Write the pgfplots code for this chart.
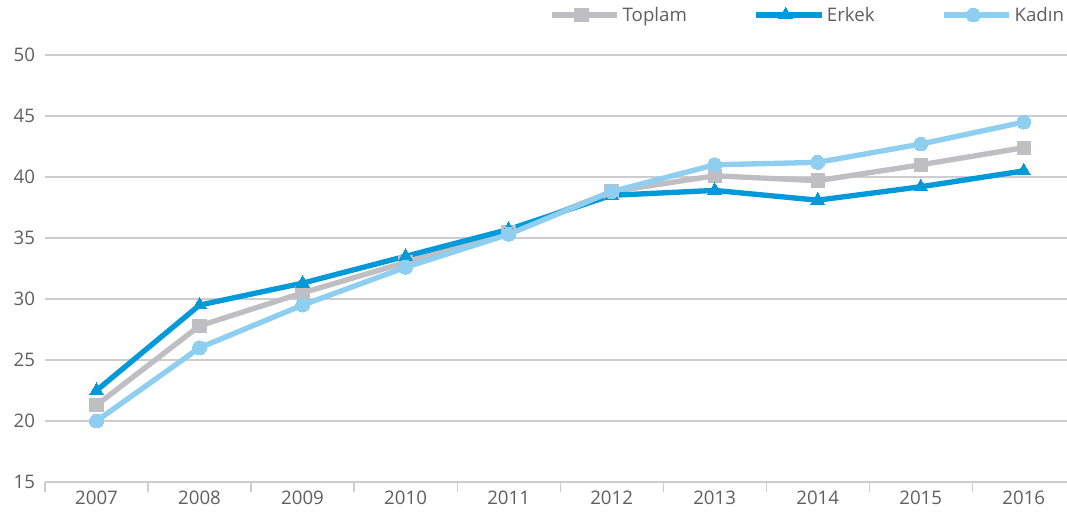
\documentclass[border=0pt]{standalone}
\usepackage{fontspec}
\setmainfont{Open Sans}
\usepackage{pgfplots}
\pgfplotsset{compat=1.18}

\definecolor{toplam}{RGB}{190,190,195}
\definecolor{erkek}{RGB}{0,154,218}
\definecolor{kadin}{RGB}{142,206,240}
\definecolor{txt}{RGB}{95,95,95}
\definecolor{gridc}{RGB}{205,205,208}

\begin{document}
\begin{tikzpicture}
\begin{axis}[name=ax, scale only axis, width=766.5pt, height=320.25pt,
  xmin=-0.5, xmax=9.42, ymin=15, ymax=50,
  xtick={0,...,9},
  xticklabels={2007,2008,2009,2010,2011,2012,2013,2014,2015,2016},
  minor xtick={-0.5,0.5,...,8.5},
  ytick={15,20,...,50},
  /pgf/number format/assume math mode=true,
  font=\fontsize{14}{16}\selectfont,
  tick label style={text=txt},
  yticklabel style={xshift=-4pt},
  xticklabel style={yshift=-3pt},
  major tick length=0pt,
  minor tick length=7.5pt,
  tick align=outside,
  minor tick style={gridc, line width=0.9pt},
  axis lines*=left,
  y axis line style={draw=none},
  x axis line style={gridc, line width=1pt},
  ymajorgrids, major grid style={gridc, line width=0.9pt},
  clip=false,
  legend columns=3,
  legend style={draw=none, fill=none, at={(1,1)}, anchor=east, yshift=30pt, xshift=3pt,
    font=\fontsize{14}{16}\selectfont\color{txt},
    /tikz/every even column/.append style={column sep=48pt}},
  legend image code/.code={\draw[mark repeat=2,mark phase=2] plot coordinates {(0pt,0pt) (22pt,0pt) (44pt,0pt)};
    \path (0pt,0pt) -- (49pt,0pt);},
  every axis plot/.append style={line width=4pt, line join=round}
]
\addplot[toplam, mark=square*, mark size=5pt, mark options={line width=0pt}] coordinates {
(0,21.3)(1,27.8)(2,30.5)(3,33.0)(4,35.5)(5,38.8)(6,40.1)(7,39.7)(8,41.0)(9,42.4)};
\addlegendentry{Toplam}
\addplot[erkek, mark=triangle*, mark size=5.8pt, mark options={line width=0pt}] coordinates {
(0,22.5)(1,29.5)(2,31.3)(3,33.5)(4,35.7)(5,38.5)(6,38.9)(7,38.1)(8,39.2)(9,40.5)};
\addlegendentry{Erkek}
\addplot[kadin, mark=*, mark size=5.2pt, mark options={line width=0pt}] coordinates {
(0,20.0)(1,26.0)(2,29.5)(3,32.6)(4,35.3)(5,38.8)(6,41.0)(7,41.2)(8,42.7)(9,44.5)};
\addlegendentry{Kadın}
\end{axis}
\pgfresetboundingbox
\path ([xshift=-33.75pt,yshift=-26.25pt]ax.south west) rectangle ([yshift=41.25pt]ax.north east);
\end{tikzpicture}
\end{document}
